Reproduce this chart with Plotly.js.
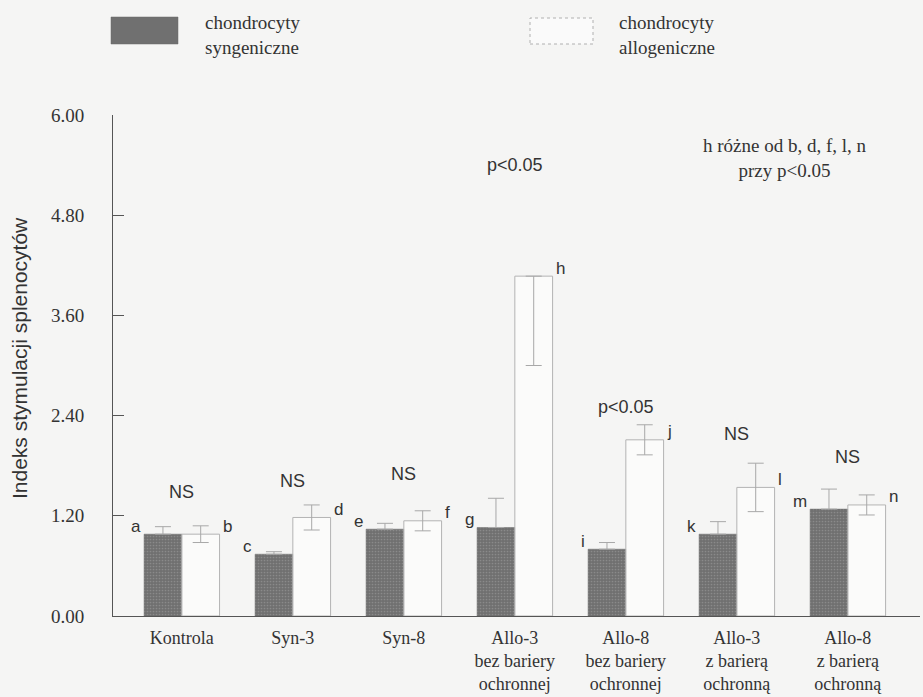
<!DOCTYPE html>
<html>
<head>
<meta charset="utf-8">
<script src="https://cdn.plot.ly/plotly-3.0.1.min.js"></script>
<style>
  html, body { margin: 0; padding: 0; background: #f5f5f4; }
  #chart { width: 923px; height: 697px; }
</style>
</head>
<body>
<div id="chart"></div>
<script>
// Groups on the category axis
const categories = [
  'Kontrola',
  'Syn-3',
  'Syn-8',
  'Allo-3<br>bez bariery<br>ochronnej',
  'Allo-8<br>bez bariery<br>ochronnej',
  'Allo-3<br>z barierą<br>ochronną',
  'Allo-8<br>z barierą<br>ochronną'
];

// Syngeneic chondrocytes: mean stimulation index and error
const synValues = [0.98, 0.74, 1.04, 1.06, 0.80, 0.98, 1.28];
const synErr    = [0.09, 0.03, 0.07, 0.35, 0.08, 0.15, 0.24];

// Allogeneic chondrocytes: mean stimulation index and error (up / down)
const alloValues  = [0.98, 1.18, 1.14, 4.07, 2.11, 1.54, 1.33];
const alloErrUp   = [0.10, 0.15, 0.12, 0.00, 0.18, 0.29, 0.12];
const alloErrDown = [0.10, 0.15, 0.12, 1.07, 0.18, 0.29, 0.12];

// Bar letters and per-group significance notes
const synLetters  = ['a', 'c', 'e', 'g', 'i', 'k', 'm'];
const alloLetters = ['b', 'd', 'f', 'h', 'j', 'l', 'n'];
const groupNotes  = ['NS', 'NS', 'NS', 'p<0.05', 'p<0.05', 'NS', 'NS'];

// Y axis ticks
const yTicks = [0, 1.2, 2.4, 3.6, 4.8, 6.0];

const seriesNames = ['chondrocyty syngeniczne', 'chondrocyty allogeniczne'];
const footnote = ['h różne od b, d, f, l, n', 'przy p<0.05'];

const esc = s => s.replace(/&/g, '&amp;').replace(/</g, '&lt;').replace(/>/g, '&gt;');

const xs = categories.map((_, i) => i);
const serif = '"Liberation Serif", "Times New Roman", serif';
const sans = '"Liberation Sans", Arial, sans-serif';
const ink = '#333333';
const darkFill = '#707070';
const lineGray = '#a8a8a8';

const traces = [
  {
    type: 'bar',
    name: seriesNames[0],
    x: xs,
    y: synValues,
    marker: {
      color: darkFill,
      line: { color: '#666', width: 0.5 },
      pattern: { shape: '.', fgcolor: '#8a8a8a', bgcolor: darkFill, size: 3, solidity: 0.25 }
    },
    // only the upper whisker shows above the solid bar
    error_y: {
      type: 'data', symmetric: false, array: synErr, arrayminus: synErr.map(() => 0),
      visible: true, color: lineGray, thickness: 1, width: 8
    },
    hoverinfo: 'y'
  },
  {
    type: 'bar',
    name: seriesNames[1],
    x: xs,
    y: alloValues,
    marker: { color: 'rgba(255,255,255,0.55)', line: { color: '#b4b4b4', width: 1 } },
    error_y: {
      type: 'data', symmetric: false, array: alloErrUp, arrayminus: alloErrDown,
      visible: true, color: lineGray, thickness: 1, width: 8
    },
    hoverinfo: 'y'
  }
];

const annotations = [];
const half = 0.34; // width of one bar in category units (bargap 0.32, two bars)

// letters beside the top of each bar
xs.forEach(i => {
  annotations.push({
    x: i - half, y: synValues[i], xref: 'x', yref: 'y',
    text: synLetters[i], showarrow: false,
    xanchor: 'right', yanchor: 'middle', xshift: -1, yshift: 8,
    font: { family: sans, size: 17, color: ink }
  });
  annotations.push({
    x: i + half, y: alloValues[i], xref: 'x', yref: 'y',
    text: alloLetters[i], showarrow: false,
    xanchor: 'left', yanchor: 'middle', xshift: 1, yshift: 8,
    font: { family: sans, size: 17, color: ink }
  });
});

// significance notes above each group
const noteY = [1.48, 1.62, 1.70, 5.40, 2.50, 2.18, 1.90];
xs.forEach(i => {
  annotations.push({
    x: i, y: noteY[i], xref: 'x', yref: 'y',
    text: esc(groupNotes[i]), showarrow: false,
    xanchor: 'center', yanchor: 'middle',
    font: { family: sans, size: 18, color: ink }
  });
});

// footnote on the right
annotations.push({
  x: 5.43, y: 5.49, xref: 'x', yref: 'y',
  text: footnote.map(esc).join('<br>'), showarrow: false,
  xanchor: 'center', yanchor: 'middle', align: 'center',
  font: { family: serif, size: 19, color: ink }
});

// y axis title
annotations.push({
  x: -0.1152, y: 0.515, xref: 'paper', yref: 'paper',
  text: 'Indeks stymulacji splenocytów', showarrow: false,
  textangle: -90, xanchor: 'center', yanchor: 'middle',
  font: { family: sans, size: 21, color: ink }
});

// legend: swatches drawn as shapes, names as two-line text
const W = 923, H = 697, mL = 113, mR = 3, mT = 115, mB = 81;
const pw = W - mL - mR, ph = H - mT - mB;
const px = v => (v - mL) / pw;
const py = v => (H - mB - v) / ph;

const shapes = [
  { type: 'rect', xref: 'paper', yref: 'paper',
    x0: px(111), x1: px(178), y0: py(44), y1: py(17),
    fillcolor: darkFill, line: { color: '#6a6a6a', width: 0.5 } },
  { type: 'rect', xref: 'paper', yref: 'paper',
    x0: px(530), x1: px(593), y0: py(44), y1: py(18),
    fillcolor: 'rgba(255,255,255,0.5)', line: { color: '#b0b0b0', width: 1, dash: 'dot' } }
];

const legendWords = seriesNames.map(n => n.split(' '));
annotations.push({
  x: px(203), y: py(35), xref: 'paper', yref: 'paper',
  text: legendWords[0].join('<br>'), showarrow: false,
  xanchor: 'left', yanchor: 'middle', align: 'left',
  font: { family: serif, size: 19, color: ink }
});
annotations.push({
  x: px(617), y: py(35), xref: 'paper', yref: 'paper',
  text: legendWords[1].join('<br>'), showarrow: false,
  xanchor: 'left', yanchor: 'middle', align: 'left',
  font: { family: serif, size: 19, color: ink }
});

const layout = {
  width: W, height: H,
  margin: { l: mL, r: mR, t: mT, b: mB },
  paper_bgcolor: '#f5f5f4',
  plot_bgcolor: '#f5f5f4',
  showlegend: false,
  barmode: 'group',
  bargap: 0.32,
  bargroupgap: 0,
  xaxis: {
    range: [-0.62, 6.65],
    tickvals: xs,
    ticktext: categories,
    showline: true, linecolor: '#555', linewidth: 1,
    ticks: '', showgrid: false, zeroline: false,
    tickfont: { family: serif, size: 18, color: ink },
    ticklabelstandoff: 5
  },
  yaxis: {
    range: [0, 6],
    tickvals: yTicks,
    ticktext: yTicks.map(v => v.toFixed(2)),
    showline: true, linecolor: '#555', linewidth: 1,
    ticks: 'inside', ticklen: 11, tickcolor: '#555', tickwidth: 1,
    showgrid: false, zeroline: false,
    tickfont: { family: serif, size: 19, color: ink },
    ticklabelstandoff: 24
  },
  annotations: annotations,
  shapes: shapes
};

Plotly.newPlot('chart', traces, layout, { displayModeBar: false, staticPlot: true });
</script>
</body>
</html>
